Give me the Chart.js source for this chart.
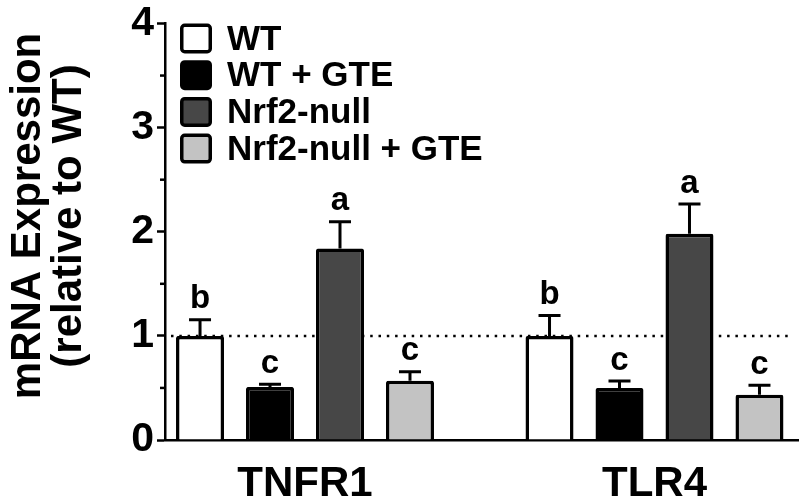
<!DOCTYPE html>
<html>
<head>
<meta charset="utf-8">
<script src="https://cdn.jsdelivr.net/npm/chart.js@4.4.0/dist/chart.umd.min.js"></script>
<style>
  html, body { margin: 0; padding: 0; background: #fff; }
</style>
</head>
<body>
<canvas id="myChart" width="800" height="499"></canvas>
<script>
const genes = ["TNFR1", "TLR4"];
const groupNames = ["WT", "WT + GTE", "Nrf2-null", "Nrf2-null + GTE"];

// mean values (relative to WT)
const wtVals = [1.0, 1.0];
const wtGteVals = [0.51, 0.5];
const nullVals = [1.84, 1.98];
const nullGteVals = [0.57, 0.435];

// SEM (upper error bars only)
const wtErr = [0.17, 0.21];
const wtGteErr = [0.04, 0.08];
const nullErr = [0.27, 0.3];
const nullGteErr = [0.1, 0.105];

// significance letters
const wtLetters = ["b", "b"];
const wtGteLetters = ["c", "c"];
const nullLetters = ["a", "a"];
const nullGteLetters = ["c", "c"];

const yTicks = [0, 1, 2, 3, 4];
const yMinorTicks = [0.5, 1.5, 2.5, 3.5];
const refLine = 1;

const fills = ["#ffffff", "#000000", "#474747", "#c3c3c3"];
const FONT = '"Liberation Sans", Arial, Helvetica, sans-serif';

const series = [wtVals, wtGteVals, nullVals, nullGteVals];
const errs = [wtErr, wtGteErr, nullErr, nullGteErr];
const letters = [wtLetters, wtGteLetters, nullLetters, nullGteLetters];

function toPoints(vals) {
  return vals.map((v, i) => ({ x: i, y: v }));
}

// dotted line at y = 1, behind the bars
const refLinePlugin = {
  id: "refLine",
  beforeDatasetsDraw(chart) {
    const ctx = chart.ctx;
    const a = chart.chartArea;
    const y = chart.scales.y.getPixelForValue(refLine);
    ctx.save();
    ctx.strokeStyle = "#000";
    ctx.lineWidth = 2.5;
    ctx.setLineDash([2.5, 5.8]);
    ctx.beginPath();
    ctx.moveTo(a.left + 6, y);
    ctx.lineTo(a.right - 8, y);
    ctx.stroke();
    ctx.restore();
  },
};

// error bars + letters
const errorBars = {
  id: "errorBars",
  afterDatasetsDraw(chart) {
    const ctx = chart.ctx;
    const yScale = chart.scales.y;
    chart.data.datasets.forEach((ds, k) => {
      const meta = chart.getDatasetMeta(k);
      meta.data.forEach((bar, i) => {
        const top = yScale.getPixelForValue(series[k][i] + errs[k][i]);
        ctx.save();
        ctx.strokeStyle = "#000";
        ctx.lineWidth = 3;
        ctx.beginPath();
        ctx.moveTo(bar.x, bar.y);
        ctx.lineTo(bar.x, top + 1.5);
        ctx.moveTo(bar.x - 11, top + 1.5);
        ctx.lineTo(bar.x + 11, top + 1.5);
        ctx.stroke();
        ctx.fillStyle = "#000";
        ctx.font = "bold 33px " + FONT;
        ctx.textAlign = "center";
        ctx.textBaseline = "alphabetic";
        ctx.fillText(letters[k][i], bar.x, top - 10);
        ctx.restore();
      });
    });
  },
};

// legend boxes top-left inside the plot, y title, minor ticks
const extras = {
  id: "extras",
  afterDraw(chart) {
    const ctx = chart.ctx;
    const a = chart.chartArea;
    const yScale = chart.scales.y;
    ctx.save();

    // minor ticks
    ctx.strokeStyle = "#000";
    ctx.lineWidth = 2.5;
    yMinorTicks.forEach((v) => {
      const py = yScale.getPixelForValue(v);
      ctx.beginPath();
      ctx.moveTo(a.left - 5, py);
      ctx.lineTo(a.left, py);
      ctx.stroke();
    });

    // legend
    groupNames.forEach((name, k) => {
      const bx = a.left + 15;
      const by = a.top + k * 36.7;
      ctx.beginPath();
      ctx.roundRect(bx + 1.75, by + 1.75, 32 - 3.5, 30 - 3.5, 3);
      ctx.fillStyle = fills[k];
      ctx.fill();
      ctx.lineWidth = 3.5;
      ctx.strokeStyle = "#000";
      ctx.stroke();
      ctx.fillStyle = "#000";
      ctx.font = "bold 35px " + FONT;
      ctx.textAlign = "left";
      ctx.textBaseline = "middle";
      ctx.fillText(name, bx + 47, by + 16.5);
    });

    // y axis title, two lines
    ctx.font = "bold 42px " + FONT;
    ctx.fillStyle = "#000";
    ctx.textAlign = "center";
    ctx.textBaseline = "middle";
    ctx.translate(0, 216);
    ctx.rotate(-Math.PI / 2);
    ctx.fillText("mRNA Expression", 0, 28);
    ctx.fillText("(relative to WT)", 0, 69);
    ctx.restore();
  },
};

const ctx = document.getElementById("myChart");
new Chart(ctx, {
  type: "bar",
  data: {
    datasets: series.map((vals, k) => ({
      label: groupNames[k],
      data: toPoints(vals),
      backgroundColor: fills[k],
      borderColor: "#000",
      borderWidth: 3.5,
      borderRadius: 2,
      categoryPercentage: 0.801,
      barPercentage: 0.686,
    })),
  },
  options: {
    responsive: false,
    animation: false,
    layout: { padding: { top: 20, left: 0, right: 2, bottom: 0 } },
    plugins: {
      legend: { display: false },
      tooltip: { enabled: false },
    },
    scales: {
      x: {
        type: "linear",
        min: -0.4006,
        max: 1.4106,
        offset: false,
        grid: { display: false, drawTicks: false, offset: false },
        border: { display: true, color: "#000", width: 2.5 },
        afterBuildTicks: (s) => {
          s.ticks = genes.map((g, i) => ({ value: i }));
        },
        afterFit: (s) => {
          s.height = 59;
        },
        ticks: {
          color: "#000",
          padding: 19,
          font: { family: FONT, size: 42, weight: "bold" },
          callback: (v) => genes[v] ?? "",
        },
      },
      y: {
        min: 0,
        max: 4,
        afterBuildTicks: (s) => {
          s.ticks = yTicks.map((v) => ({ value: v }));
        },
        afterFit: (s) => {
          s.width = 165;
        },
        grid: {
          drawOnChartArea: false,
          drawTicks: true,
          tickLength: 8,
          tickWidth: 2.5,
          tickColor: "#000",
        },
        border: { display: true, color: "#000", width: 2.5 },
        ticks: {
          color: "#000",
          padding: 3,
          font: { family: FONT, size: 41, weight: "bold", lineHeight: 1 },
        },
      },
    },
  },
  plugins: [refLinePlugin, errorBars, extras],
});
</script>
</body>
</html>
